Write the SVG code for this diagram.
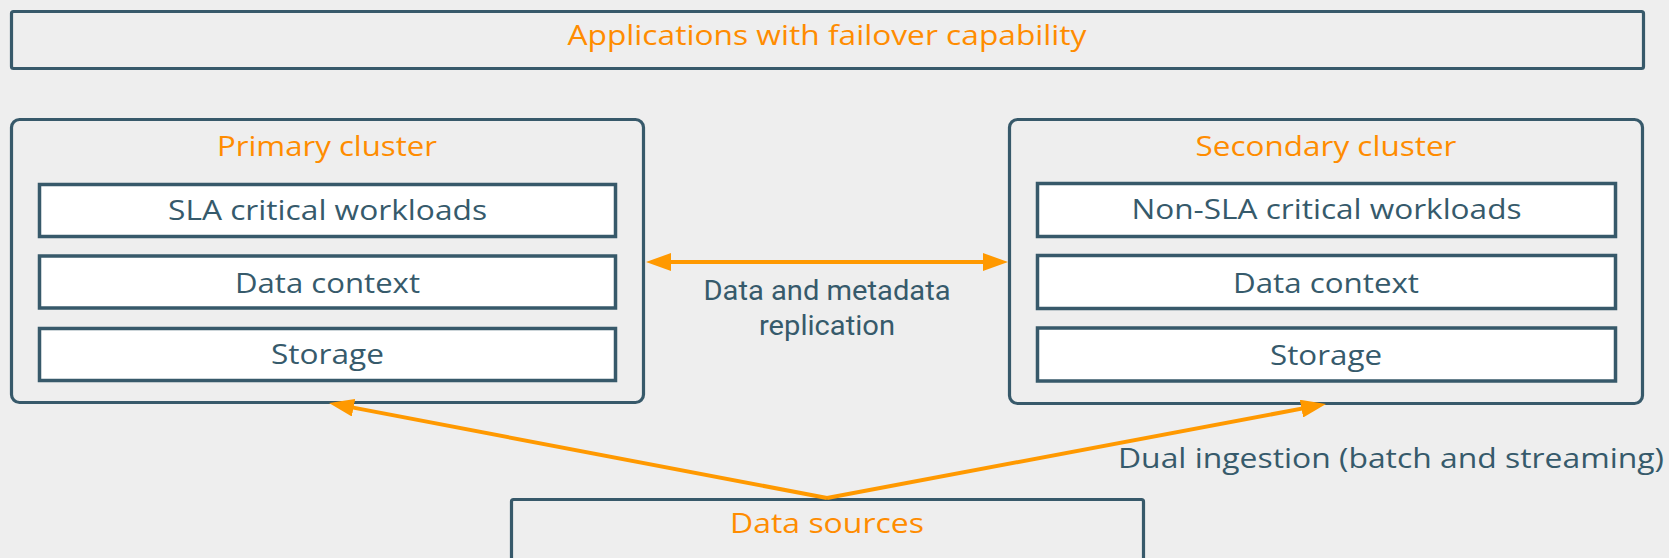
<svg xmlns="http://www.w3.org/2000/svg" width="1669" height="558" viewBox="0 0 1669 558">
<defs>
<style>
.bg{fill:#eeeeee}
.frame{fill:none;stroke:#37596a;stroke-width:3.2}
.layer{fill:#ffffff;stroke:#37596a;stroke-width:3.5}
.t{font-family:"Open Sans","Liberation Sans",sans-serif;font-size:27px;font-weight:400;text-anchor:middle}
.dark{fill:#365a6b}
.orange{fill:#ff8c00}
.lbl{font-family:Roboto,"Liberation Sans",sans-serif;font-size:28px;font-weight:400;text-anchor:middle;fill:#365a6b}
.conn{stroke:#ff9900;stroke-width:4;fill:none}
</style>
<marker id="ah" viewBox="0 0 25 18" refX="15" refY="9" markerWidth="25" markerHeight="18" markerUnits="userSpaceOnUse" orient="auto-start-reverse">
<path d="M0,0 L25,9 L0,18 Z" fill="#ff9900"/>
</marker>
</defs>
<rect class="bg" x="0" y="0" width="1669" height="558"/>

<g id="apps">
<rect class="frame" x="11.5" y="11.5" width="1632" height="57" rx="2"/>
<text class="t orange" x="827" y="45" textLength="519" lengthAdjust="spacingAndGlyphs">Applications with failover capability</text>
</g>

<g id="primary-cluster">
<rect class="frame" x="11.5" y="119.5" width="632" height="283" rx="8"/>
<text class="t orange" x="327" y="156" textLength="220" lengthAdjust="spacingAndGlyphs">Primary cluster</text>
</g>
<g id="primary-workloads">
<rect class="layer" x="39.5" y="184.5" width="576" height="52"/>
<text class="t dark" x="327.5" y="220" textLength="319" lengthAdjust="spacingAndGlyphs">SLA critical workloads</text>
</g>
<g id="primary-context">
<rect class="layer" x="39.5" y="256" width="576" height="52"/>
<text class="t dark" x="327.5" y="292.5" textLength="185" lengthAdjust="spacingAndGlyphs">Data context</text>
</g>
<g id="primary-storage">
<rect class="layer" x="39.5" y="328.5" width="576" height="52"/>
<text class="t dark" x="327.5" y="364" textLength="113" lengthAdjust="spacingAndGlyphs">Storage</text>
</g>

<g id="secondary-cluster">
<rect class="frame" x="1009.5" y="119.5" width="633" height="284" rx="8"/>
<text class="t orange" x="1326" y="155.5" textLength="261" lengthAdjust="spacingAndGlyphs">Secondary cluster</text>
</g>
<g id="secondary-workloads">
<rect class="layer" x="1037.5" y="183.5" width="578" height="53"/>
<text class="t dark" x="1326.5" y="219" textLength="390" lengthAdjust="spacingAndGlyphs">Non-SLA critical workloads</text>
</g>
<g id="secondary-context">
<rect class="layer" x="1037.5" y="255.5" width="578" height="53"/>
<text class="t dark" x="1326" y="292.5" textLength="186" lengthAdjust="spacingAndGlyphs">Data context</text>
</g>
<g id="secondary-storage">
<rect class="layer" x="1037.5" y="328" width="578" height="53"/>
<text class="t dark" x="1326" y="365" textLength="112" lengthAdjust="spacingAndGlyphs">Storage</text>
</g>

<g id="data-sources">
<rect class="frame" x="511.5" y="499.5" width="632" height="80" rx="2"/>
<text class="t orange" x="827" y="533" textLength="194" lengthAdjust="spacingAndGlyphs">Data sources</text>
</g>

<g id="connectors">
<line class="conn" x1="656" y1="262" x2="998" y2="262" marker-start="url(#ah)" marker-end="url(#ah)"/>
<text class="lbl" x="827" y="300" textLength="247" lengthAdjust="spacingAndGlyphs">Data and metadata</text>
<text class="lbl" x="827" y="335" textLength="136" lengthAdjust="spacingAndGlyphs">replication</text>
<line class="conn" x1="827" y1="498" x2="338.8" y2="404.9" marker-end="url(#ah)"/>
<line class="conn" x1="827" y1="498" x2="1316.2" y2="405.9" marker-end="url(#ah)"/>
<text class="t dark" x="1391" y="468" textLength="546" lengthAdjust="spacingAndGlyphs">Dual ingestion (batch and streaming)</text>
</g>
</svg>
